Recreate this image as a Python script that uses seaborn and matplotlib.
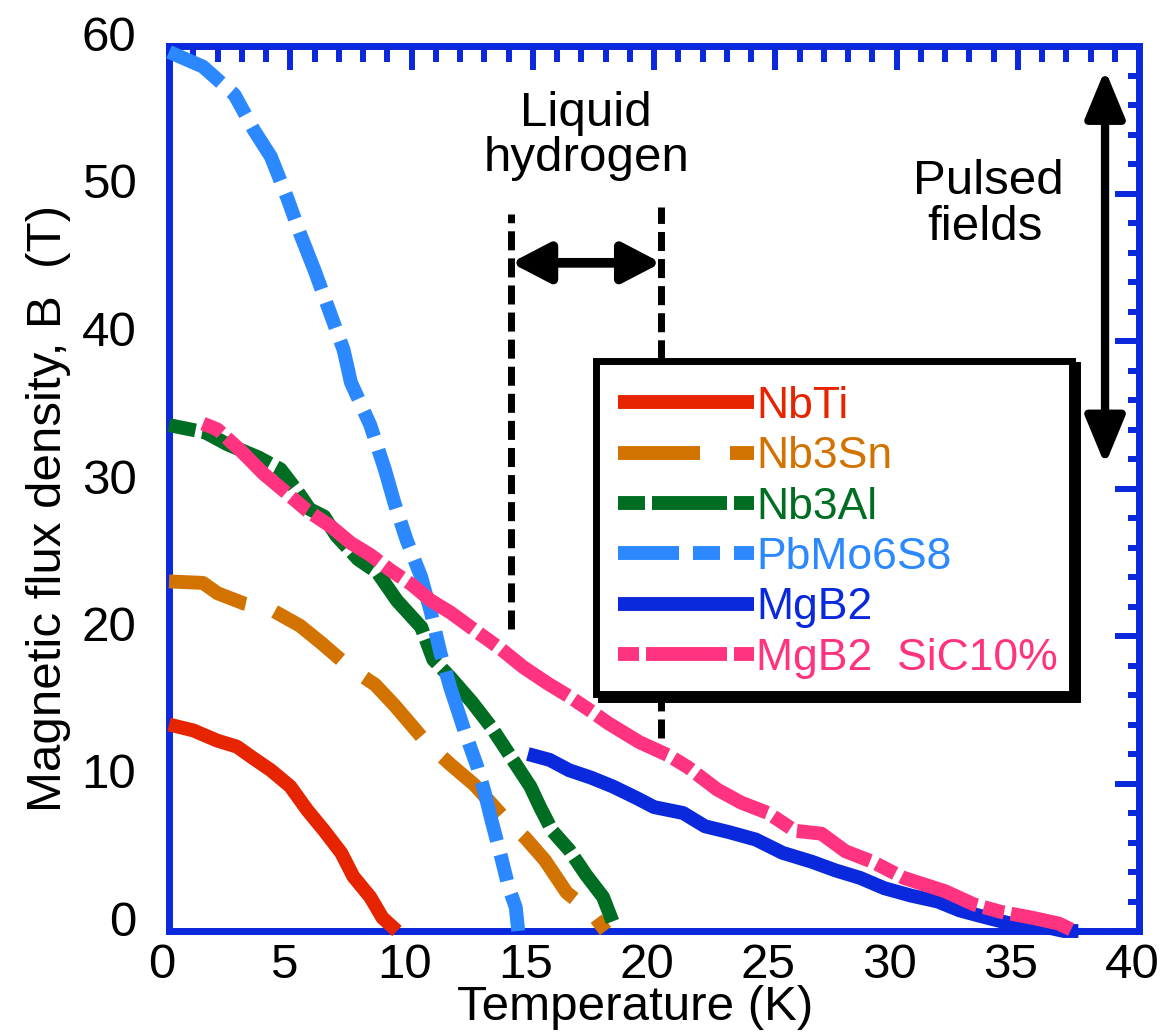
import matplotlib
matplotlib.use("Agg")
import matplotlib.pyplot as plt
import matplotlib.transforms as mtransforms
from matplotlib.patches import Rectangle
from matplotlib.ticker import MultipleLocator
import numpy as np
import pandas as pd
import seaborn as sns

# ---- data: upper critical field vs temperature ----
materials = ["NbTi", "Nb3Sn", "Nb3Al", "PbMo6S8", "MgB2", "MgB2  SiC10%"]

nbti_T = [0.0, 1.0, 2.0, 2.8, 3.4, 4.2, 5.0, 5.7, 6.4, 7.1, 7.6, 8.3, 8.8, 9.4]
nbti_B = [14.0, 13.6, 12.9, 12.5, 11.8, 10.9, 9.8, 8.2, 6.8, 5.3, 3.7, 2.3, 0.9, 0.0]

nb3sn_T = [0.0, 1.4, 2.0, 3.1, 4.2, 5.4, 6.3, 7.5, 8.5, 9.3, 10.6, 11.6, 12.6,
           13.7, 14.7, 15.5, 16.4, 17.4, 18.0]
nb3sn_B = [23.7, 23.6, 22.9, 22.2, 21.8, 20.7, 19.5, 17.8, 16.7, 15.3, 12.8, 11.3, 9.9,
           7.9, 6.3, 4.8, 2.6, 1.3, 0.0]

nb3al_T = [0.0, 1.5, 2.4, 3.7, 4.6, 5.3, 5.8, 6.4, 6.9, 7.8, 8.6, 9.4, 10.4, 10.9,
           11.6, 12.5, 13.3, 14.1, 14.9, 15.3, 15.8, 16.5, 17.2, 17.9, 18.3]
nb3al_B = [34.3, 33.8, 33.0, 32.1, 31.3, 29.8, 28.6, 28.1, 26.8, 25.2, 24.3, 22.4, 20.6, 18.4,
           17.2, 15.5, 13.8, 11.8, 9.8, 8.4, 6.8, 5.5, 3.8, 2.3, 0.6]

pbmo_T = [0.0, 1.4, 2.7, 3.5, 4.2, 4.9, 5.4, 6.0, 6.6, 7.2, 7.5, 8.3, 8.9, 9.3, 9.8,
          10.4, 10.8, 11.2, 11.6, 12.2, 12.7, 13.0, 13.3, 13.7, 14.0, 14.3, 14.4]
pbmo_B = [59.6, 58.6, 56.7, 54.3, 52.5, 49.6, 47.3, 44.8, 42.1, 39.4, 37.2, 34.3, 31.3, 29.0, 26.5,
          24.0, 21.6, 18.8, 16.5, 13.5, 11.2, 9.5, 7.5, 5.0, 3.0, 1.6, 0.0]

mgb2_T = [14.8, 15.7, 16.5, 17.4, 18.3, 19.3, 20.0, 21.2, 22.1, 23.1, 24.2, 25.3,
          26.5, 27.5, 28.5, 29.5, 30.6, 31.7, 32.6, 33.5, 34.7, 35.8, 36.9, 37.5]
mgb2_B = [12.0, 11.6, 10.9, 10.4, 9.8, 9.0, 8.4, 8.0, 7.1, 6.7, 6.2, 5.3,
          4.7, 4.1, 3.6, 2.9, 2.4, 2.0, 1.4, 1.0, 0.5, 0.4, 0.0, 0.0]

sic_T = [1.4, 2.0, 3.0, 3.9, 4.7, 5.7, 6.7, 7.5, 8.3, 9.1, 10.0, 10.8, 11.6, 12.6,
         13.7, 14.6, 15.6, 16.5, 17.5, 18.1, 19.4, 20.6, 21.4, 22.6, 23.6, 24.7,
         25.8, 26.9, 27.9, 29.0, 30.3, 32.0, 33.2, 34.3, 35.6, 36.7, 37.2]
sic_B = [34.4, 34.0, 32.5, 31.0, 29.9, 28.5, 27.4, 26.3, 25.5, 24.5, 23.5, 22.4, 21.6, 20.4,
         19.1, 17.9, 16.8, 15.9, 14.8, 14.1, 12.8, 11.9, 11.1, 9.6, 8.7, 8.0,
         6.8, 6.6, 5.4, 4.7, 3.6, 2.7, 1.8, 1.3, 0.9, 0.5, 0.1]

series_T = [nbti_T, nb3sn_T, nb3al_T, pbmo_T, mgb2_T, sic_T]
series_B = [nbti_B, nb3sn_B, nb3al_B, pbmo_B, mgb2_B, sic_B]

# liquid hydrogen range and guide extents (K, T)
h2_range = [14.1, 20.3]
h2_guide_bottom = [20.5, 13.1]
h2_guide_top = [48.6, 49.1]
h2_arrow_B = 45.3
pulsed_T = 38.6
pulsed_range = [31.6, 58.4]

# ---- style ----
W, H = 1168, 1033
BLUE = "#0a28dc"
colors = {
    "NbTi": "#e62400",
    "Nb3Sn": "#d27200",
    "Nb3Al": "#006e22",
    "PbMo6S8": "#2b88ff",
    "MgB2": "#0a28dc",
    "MgB2  SiC10%": "#ff3380",
}
px = 0.72  # points per pixel at 100 dpi
dashes = {
    "NbTi": "",
    "Nb3Sn": (82 * px, 30 * px),
    "Nb3Al": (27 * px, 7 * px, 75 * px, 7 * px),
    "PbMo6S8": (61 * px, 14 * px, 27 * px, 14 * px),
    "MgB2": "",
    "MgB2  SiC10%": (21 * px, 7 * px, 81 * px, 7 * px),
}

sns.set_theme(style="white")
plt.rcParams["font.family"] = ["Liberation Sans", "DejaVu Sans"]
plt.rcParams["lines.scale_dashes"] = False
plt.rcParams["text.color"] = "black"
plt.rcParams["axes.labelcolor"] = "black"
plt.rcParams["xtick.color"] = "black"
plt.rcParams["ytick.color"] = "black"

fig = plt.figure(figsize=(W / 100, H / 100), dpi=100)
ax = fig.add_axes([169 / W, 1 - 931 / H, 970 / W, 885 / H])

df = pd.concat(
    [pd.DataFrame({"T": t, "B": b, "material": m})
     for m, t, b in zip(materials, series_T, series_B)],
    ignore_index=True,
)

sns.lineplot(data=df, x="T", y="B", hue="material", style="material",
             hue_order=materials, style_order=materials, palette=colors,
             dashes=dashes, sort=False, estimator=None, lw=10,
             legend=False, ax=ax)

curve_lines = list(ax.get_lines())
for ln in curve_lines:
    ln.set_solid_capstyle("butt")
    ln.set_dash_capstyle("butt")
    ln.set_clip_on(False)
    ln.set_zorder(3)

# liquid hydrogen guides
guide_ls = (0, (13.7, 5.8))
for t, b0, b1 in zip(h2_range, h2_guide_bottom, h2_guide_top):
    ax.plot([t, t], [b0, b1], color="black", lw=5, ls=guide_ls,
            dash_capstyle="butt", zorder=2)

ax.annotate("", xy=(h2_range[1], h2_arrow_B), xytext=(h2_range[0], h2_arrow_B),
            arrowprops=dict(arrowstyle="<|-|>,head_length=23,head_width=12",
                            mutation_scale=1, lw=7, color="black",
                            shrinkA=0, shrinkB=0))
ax.annotate("", xy=(pulsed_T, pulsed_range[1]), xytext=(pulsed_T, pulsed_range[0]),
            arrowprops=dict(arrowstyle="<|-|>,head_length=29,head_width=12",
                            mutation_scale=1, lw=6, color="black",
                            shrinkA=0, shrinkB=0))

ax.text(17.2, 54.6, "Liquid", ha="center", va="baseline", fontsize=35.5)
ax.text(17.2, 51.5, "hydrogen", ha="center", va="baseline", fontsize=35.5)
ax.text(33.8, 50.0, "Pulsed", ha="center", va="baseline", fontsize=35.5)
ax.text(33.65, 46.85, "fields", ha="center", va="baseline", fontsize=35.5)

# axes
ax.set_xlim(0, 40)
ax.set_ylim(0, 60)
ax.xaxis.set_major_locator(MultipleLocator(5))
ax.xaxis.set_minor_locator(MultipleLocator(1))
ax.yaxis.set_major_locator(MultipleLocator(10))
ax.yaxis.set_minor_locator(MultipleLocator(2))
for s in ax.spines.values():
    s.set_color(BLUE)
    s.set_linewidth(5)
    s.set_visible(True)

ax.tick_params(which="both", direction="in", top=True, right=True,
               color=BLUE, width=4.3, labelcolor="black")
ax.tick_params(which="major", length=17)
ax.tick_params(axis="x", which="minor", length=11.5)
ax.tick_params(axis="y", which="minor", length=8)
ax.tick_params(axis="x", which="major", labelsize=35.5, pad=8.5)
ax.tick_params(axis="y", which="major", labelsize=35.5, pad=23.5)
ax.grid(False)

ax.set_xlabel("Temperature (K)", fontsize=35.5, color="black")
ax.set_ylabel("Magnetic flux density, B  (T)", fontsize=35.5, color="black")
ax.xaxis.set_label_coords(0.481, -0.061)
ax.yaxis.set_label_coords(-0.101, 0.4774)

fig.canvas.draw()
up = mtransforms.ScaledTranslation(0, 9 / 72, fig.dpi_scale_trans)
left = mtransforms.ScaledTranslation(-5 / 72, 0, fig.dpi_scale_trans)
for lab in ax.get_yticklabels():
    lab.set_transform(lab.get_transform() + up)
for lab in ax.get_xticklabels():
    lab.set_transform(lab.get_transform() + left)

# legend box with a black drop shadow
bx0, bx1, by0, by1 = 595.5, 1071.5, 360.5, 693.5
shadow = Rectangle(((bx0 + 5) / W, 1 - (by1 + 5) / H), (bx1 - bx0) / W, (by1 - by0) / H,
                   transform=fig.transFigure, facecolor="black", edgecolor="black",
                   lw=5, zorder=4)
box = Rectangle((bx0 / W, 1 - by1 / H), (bx1 - bx0) / W, (by1 - by0) / H,
                transform=fig.transFigure, facecolor="white", edgecolor="black",
                lw=5, zorder=4.5, joinstyle="miter")
fig.patches.extend([shadow, box])

leg = fig.legend(curve_lines, materials, loc="upper left",
                 bbox_to_anchor=(618 / W, 1 - 386 / H), frameon=False,
                 fontsize=32, handlelength=3.06, handletextpad=0.05,
                 labelspacing=0.21, borderpad=0, borderaxespad=0,
                 labelcolor="linecolor")
leg.set_zorder(5)

fig.savefig("out.png", dpi=100)
